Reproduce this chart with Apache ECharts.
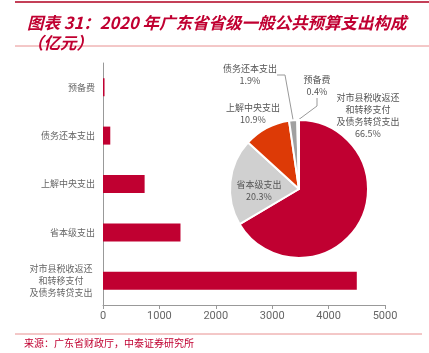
<!DOCTYPE html>
<html>
<head>
<meta charset="utf-8">
<script src="https://cdn.jsdelivr.net/npm/echarts@6/dist/echarts.min.js"></script>
<style>
  html, body { margin: 0; padding: 0; background: #fff; }
  #chart { width: 429px; height: 353px; }
</style>
</head>
<body>
<div id="chart"></div>
<script>
// bottom to top on the bar axis, clockwise on the pie
const categories = ["对市县税收返还\n和转移支付\n及债务转贷支出", "省本级支出", "上解中央支出", "债务还本支出", "预备费"];
const values = [4500, 1374, 738, 129, 27];
const sliceColors = ["#C00031", "#D0D0D0", "#DD3A06", "#A0A0A0", "#BDBDBD"];
const xTicks = [0, 1000, 2000, 3000, 4000, 5000];

const font = "'Noto Sans CJK SC', sans-serif";
const red = "#C00031";

let chart = echarts.init(document.getElementById("chart"), null, { renderer: "canvas" });

// where each pie label sits (text only)
const pieLabelPos = [
    { x: 368, y: 116 },
    { x: 259, y: 191 },
    { x: 253, y: 114 },
    { x: 250, y: 75 },
    { x: 317, y: 86 },
];

chart.setOption({
    animation: false,
    title: {
        text: "图表 31：2020 年广东省省级一般公共预算支出构成\n（亿元）",
        left: 22,
        top: 8,
        textStyle: {
            color: red, fontFamily: font, fontSize: 16.5, fontWeight: "bold",
            fontStyle: "italic", lineHeight: 20
        }
    },
    graphic: [
        { type: "line", shape: { x1: 15, y1: 2, x2: 429, y2: 2 }, style: { stroke: "#B00020", lineWidth: 1.5 } },
        { type: "line", shape: { x1: 15, y1: 46, x2: 429, y2: 46 }, style: { stroke: "#E89090", lineWidth: 1 } },
        { type: "line", shape: { x1: 15, y1: 334, x2: 422, y2: 334 }, style: { stroke: "#E89090", lineWidth: 1 } },
        {
            type: "text", left: 24, top: 338,
            style: { text: "来源：广东省财政厅，中泰证券研究所", fill: red, font: "10px " + font }
        }
    ],
    grid: { left: 103, right: 44, top: 63, bottom: 48 },
    xAxis: {
        type: "value", min: 0, max: 5000, interval: 1000,
        axisLine: { show: true, lineStyle: { color: "#999" } },
        axisTick: { show: true, length: 4, lineStyle: { color: "#999" } },
        splitLine: { show: false },
        axisLabel: {
            color: "#666", fontSize: 11, fontFamily: "Roboto, sans-serif", margin: 6,
            formatter: (v) => String(v)
        }
    },
    yAxis: {
        type: "category",
        data: categories,
        axisLine: { lineStyle: { color: "#999" } },
        axisTick: { length: 4, lineStyle: { color: "#999" } },
        axisLabel: {
            color: "#666", fontSize: 9, fontFamily: font, lineHeight: 12, margin: 8,
            formatter: (v) => v.includes("\n")
                ? v.split("\n").map(l => "{c|" + l + "}").join("\n")
                : v,
            rich: { c: { width: 68, align: "center", fontSize: 9, lineHeight: 12, color: "#666", fontFamily: font } }
        }
    },
    series: [
        {
            type: "bar",
            data: values,
            barWidth: 18,
            itemStyle: { color: red }
        },
        {
            type: "pie",
            center: [299, 189],
            radius: [0, 69],
            startAngle: 90,
            clockwise: true,
            percentPrecision: 1,
            itemStyle: { borderColor: "#fff", borderWidth: 2 },
            label: {
                show: true,
                formatter: "{b}\n{d}%",
                color: "#555", fontSize: 9, lineHeight: 12, fontFamily: font,
                align: "center",
                overflow: "none"
            },
            labelLine: { show: true, length: 10, length2: 8, lineStyle: { color: "#999", width: 1 } },
            labelLayout: (p) => ({
                x: pieLabelPos[p.dataIndex].x,
                y: pieLabelPos[p.dataIndex].y,
                align: "center",
                verticalAlign: "middle"
            }),
            data: categories.map((name, i) => ({
                name,
                value: values[i],
                itemStyle: { color: sliceColors[i] },
                labelLine: { show: i >= 3 }
            }))
        }
    ]
});
</script>
</body>
</html>
